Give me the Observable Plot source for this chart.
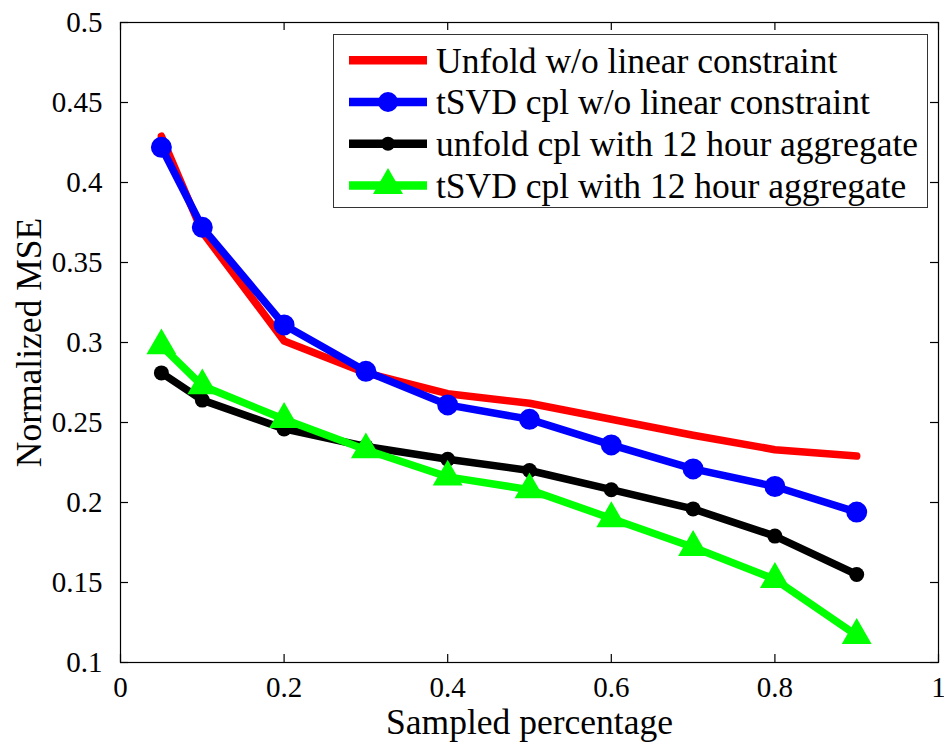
<!DOCTYPE html>
<html><head><meta charset="utf-8">
<script src="https://cdn.jsdelivr.net/npm/d3@7"></script>
<script src="https://cdn.jsdelivr.net/npm/@observablehq/plot@0.6"></script>
<style>
html,body{margin:0;padding:0;background:#fff;}
#wrap{position:relative;width:944px;height:745px;}
#legend{position:absolute;left:333px;top:34px;width:595px;height:174px;box-sizing:border-box;border:1.2px solid #333;background:#fff;}
#legend svg{position:absolute;left:0;top:0;}
</style></head><body><div id="wrap"></div>
<script>
// ---- data ----
const sampled = [0.05, 0.1, 0.2, 0.3, 0.4, 0.5, 0.6, 0.7, 0.8, 0.9];
const unfoldNoLinear = [0.429, 0.369, 0.301, 0.281, 0.268, 0.262, 0.252, 0.242, 0.233, 0.229];
const tsvdNoLinear   = [0.422, 0.372, 0.311, 0.282, 0.261, 0.252, 0.236, 0.221, 0.210, 0.194];
const unfold12h      = [0.281, 0.264, 0.246, 0.235, 0.227, 0.220, 0.208, 0.196, 0.179, 0.155];
const tsvd12h        = [0.298, 0.273, 0.252, 0.233, 0.216, 0.208, 0.190, 0.172, 0.152, 0.117];
const seriesNames = [
  "Unfold w/o linear constraint",
  "tSVD cpl w/o linear constraint",
  "unfold cpl with 12 hour aggregate",
  "tSVD cpl with 12 hour aggregate"
];
const xTicks = [0, 0.2, 0.4, 0.6, 0.8, 1];
const xTickLabels = ["0", "0.2", "0.4", "0.6", "0.8", "1"];
const yTicks = [0.1, 0.15, 0.2, 0.25, 0.3, 0.35, 0.4, 0.45, 0.5];
const yTickLabels = ["0.1", "0.15", "0.2", "0.25", "0.3", "0.35", "0.4", "0.45", "0.5"];
const xLabel = "Sampled percentage";
const yLabel = "Normalized MSE";

// ---- layout ----
const W = 944, H = 745, mL = 120, mR = 6, mT = 22, mB = 83;
const plotW = W - mL - mR, plotH = H - mT - mB;
const tickLen = 8;
const FONT = "Liberation Serif, Times New Roman, serif";
const RED = "#ff0000", BLUE = "#0000ff", BLACK = "#000000", GREEN = "#00ff00";

const rows = vals => sampled.map((x, i) => ({x, y: vals[i]}));

const chart = Plot.plot({
  width: W, height: H,
  marginLeft: mL, marginRight: mR, marginTop: mT, marginBottom: mB,
  style: {fontFamily: FONT, color: "black", background: "white"},
  x: {domain: [0, 1]},
  y: {domain: [0.1, 0.5]},
  marks: [
    Plot.frame({stroke: "black", strokeWidth: 1.2}),
    Plot.tickX(xTicks, {x: d => d, insetTop: plotH - tickLen, stroke: "black", strokeWidth: 1.2}),
    Plot.tickX(xTicks, {x: d => d, insetBottom: plotH - tickLen, stroke: "black", strokeWidth: 1.2}),
    Plot.tickY(yTicks, {y: d => d, insetRight: plotW - tickLen, stroke: "black", strokeWidth: 1.2}),
    Plot.tickY(yTicks, {y: d => d, insetLeft: plotW - tickLen, stroke: "black", strokeWidth: 1.2}),
    Plot.axisX({ticks: xTicks, tickSize: 0, tickPadding: 14, fontSize: 29, label: null,
      tickFormat: d => xTickLabels[xTicks.indexOf(d)]}),
    Plot.axisY({ticks: yTicks, tickSize: 0, tickPadding: 18, fontSize: 29, label: null,
      tickFormat: d => yTickLabels[yTicks.indexOf(d)]}),
    Plot.text([xLabel], {frameAnchor: "bottom", lineAnchor: "top", textAnchor: "middle", dy: 46, fontSize: 35.5, text: d => d}),
    Plot.text([yLabel], {frameAnchor: "left", rotate: -90, lineAnchor: "top", textAnchor: "middle", dx: -105, fontSize: 35.5, text: d => d}),
    // series
    Plot.line(rows(unfoldNoLinear), {x: "x", y: "y", stroke: RED, strokeWidth: 7.5, strokeLinejoin: "round", strokeLinecap: "round"}),
    Plot.line(rows(tsvdNoLinear), {x: "x", y: "y", stroke: BLUE, strokeWidth: 7.5, strokeLinejoin: "round", strokeLinecap: "round"}),
    Plot.dot(rows(tsvdNoLinear), {x: "x", y: "y", r: 6.5, stroke: BLUE, strokeWidth: 8, fill: "none"}),
    Plot.line(rows(unfold12h), {x: "x", y: "y", stroke: BLACK, strokeWidth: 7.5, strokeLinejoin: "round", strokeLinecap: "round"}),
    Plot.dot(rows(unfold12h), {x: "x", y: "y", r: 7.5, fill: BLACK, stroke: "none"}),
    Plot.line(rows(tsvd12h), {x: "x", y: "y", stroke: GREEN, strokeWidth: 7.5, strokeLinejoin: "round", strokeLinecap: "round"}),
    Plot.dot(rows(tsvd12h), {x: "x", y: "y", symbol: "triangle", r: 6.6, stroke: GREEN, strokeWidth: 7, strokeLinejoin: "miter", fill: "none"})
  ]
});
document.getElementById("wrap").appendChild(chart);

// ---- legend (HTML overlay) ----
const legend = d3.select("#wrap").append("div").attr("id", "legend");
const lsvg = legend.append("svg").attr("width", 595).attr("height", 174)
  .style("font-family", FONT);
const colors = [RED, BLUE, BLACK, GREEN];
const rowY = i => 25.3 + i * 41.7;
seriesNames.forEach((name, i) => {
  const g = lsvg.append("g").attr("transform", `translate(0,${rowY(i)})`);
  g.append("line").attr("x1", 15).attr("x2", 93).attr("y1", 0).attr("y2", 0)
    .attr("stroke", colors[i]).attr("stroke-width", 8.5);
  if (i === 1) g.append("circle").attr("cx", 54).attr("cy", 0).attr("r", 10).attr("fill", BLUE);
  if (i === 2) g.append("circle").attr("cx", 54).attr("cy", 0).attr("r", 7).attr("fill", BLACK);
  if (i === 3) g.append("path").attr("transform", "translate(54,0)")
    .attr("d", d3.symbol(d3.symbolTriangle, 390)()).attr("fill", GREEN);
  g.append("text").attr("x", 102).attr("y", 12.4).attr("font-size", 35.5).attr("fill", "black").text(name);
});
</script>
</body></html>
